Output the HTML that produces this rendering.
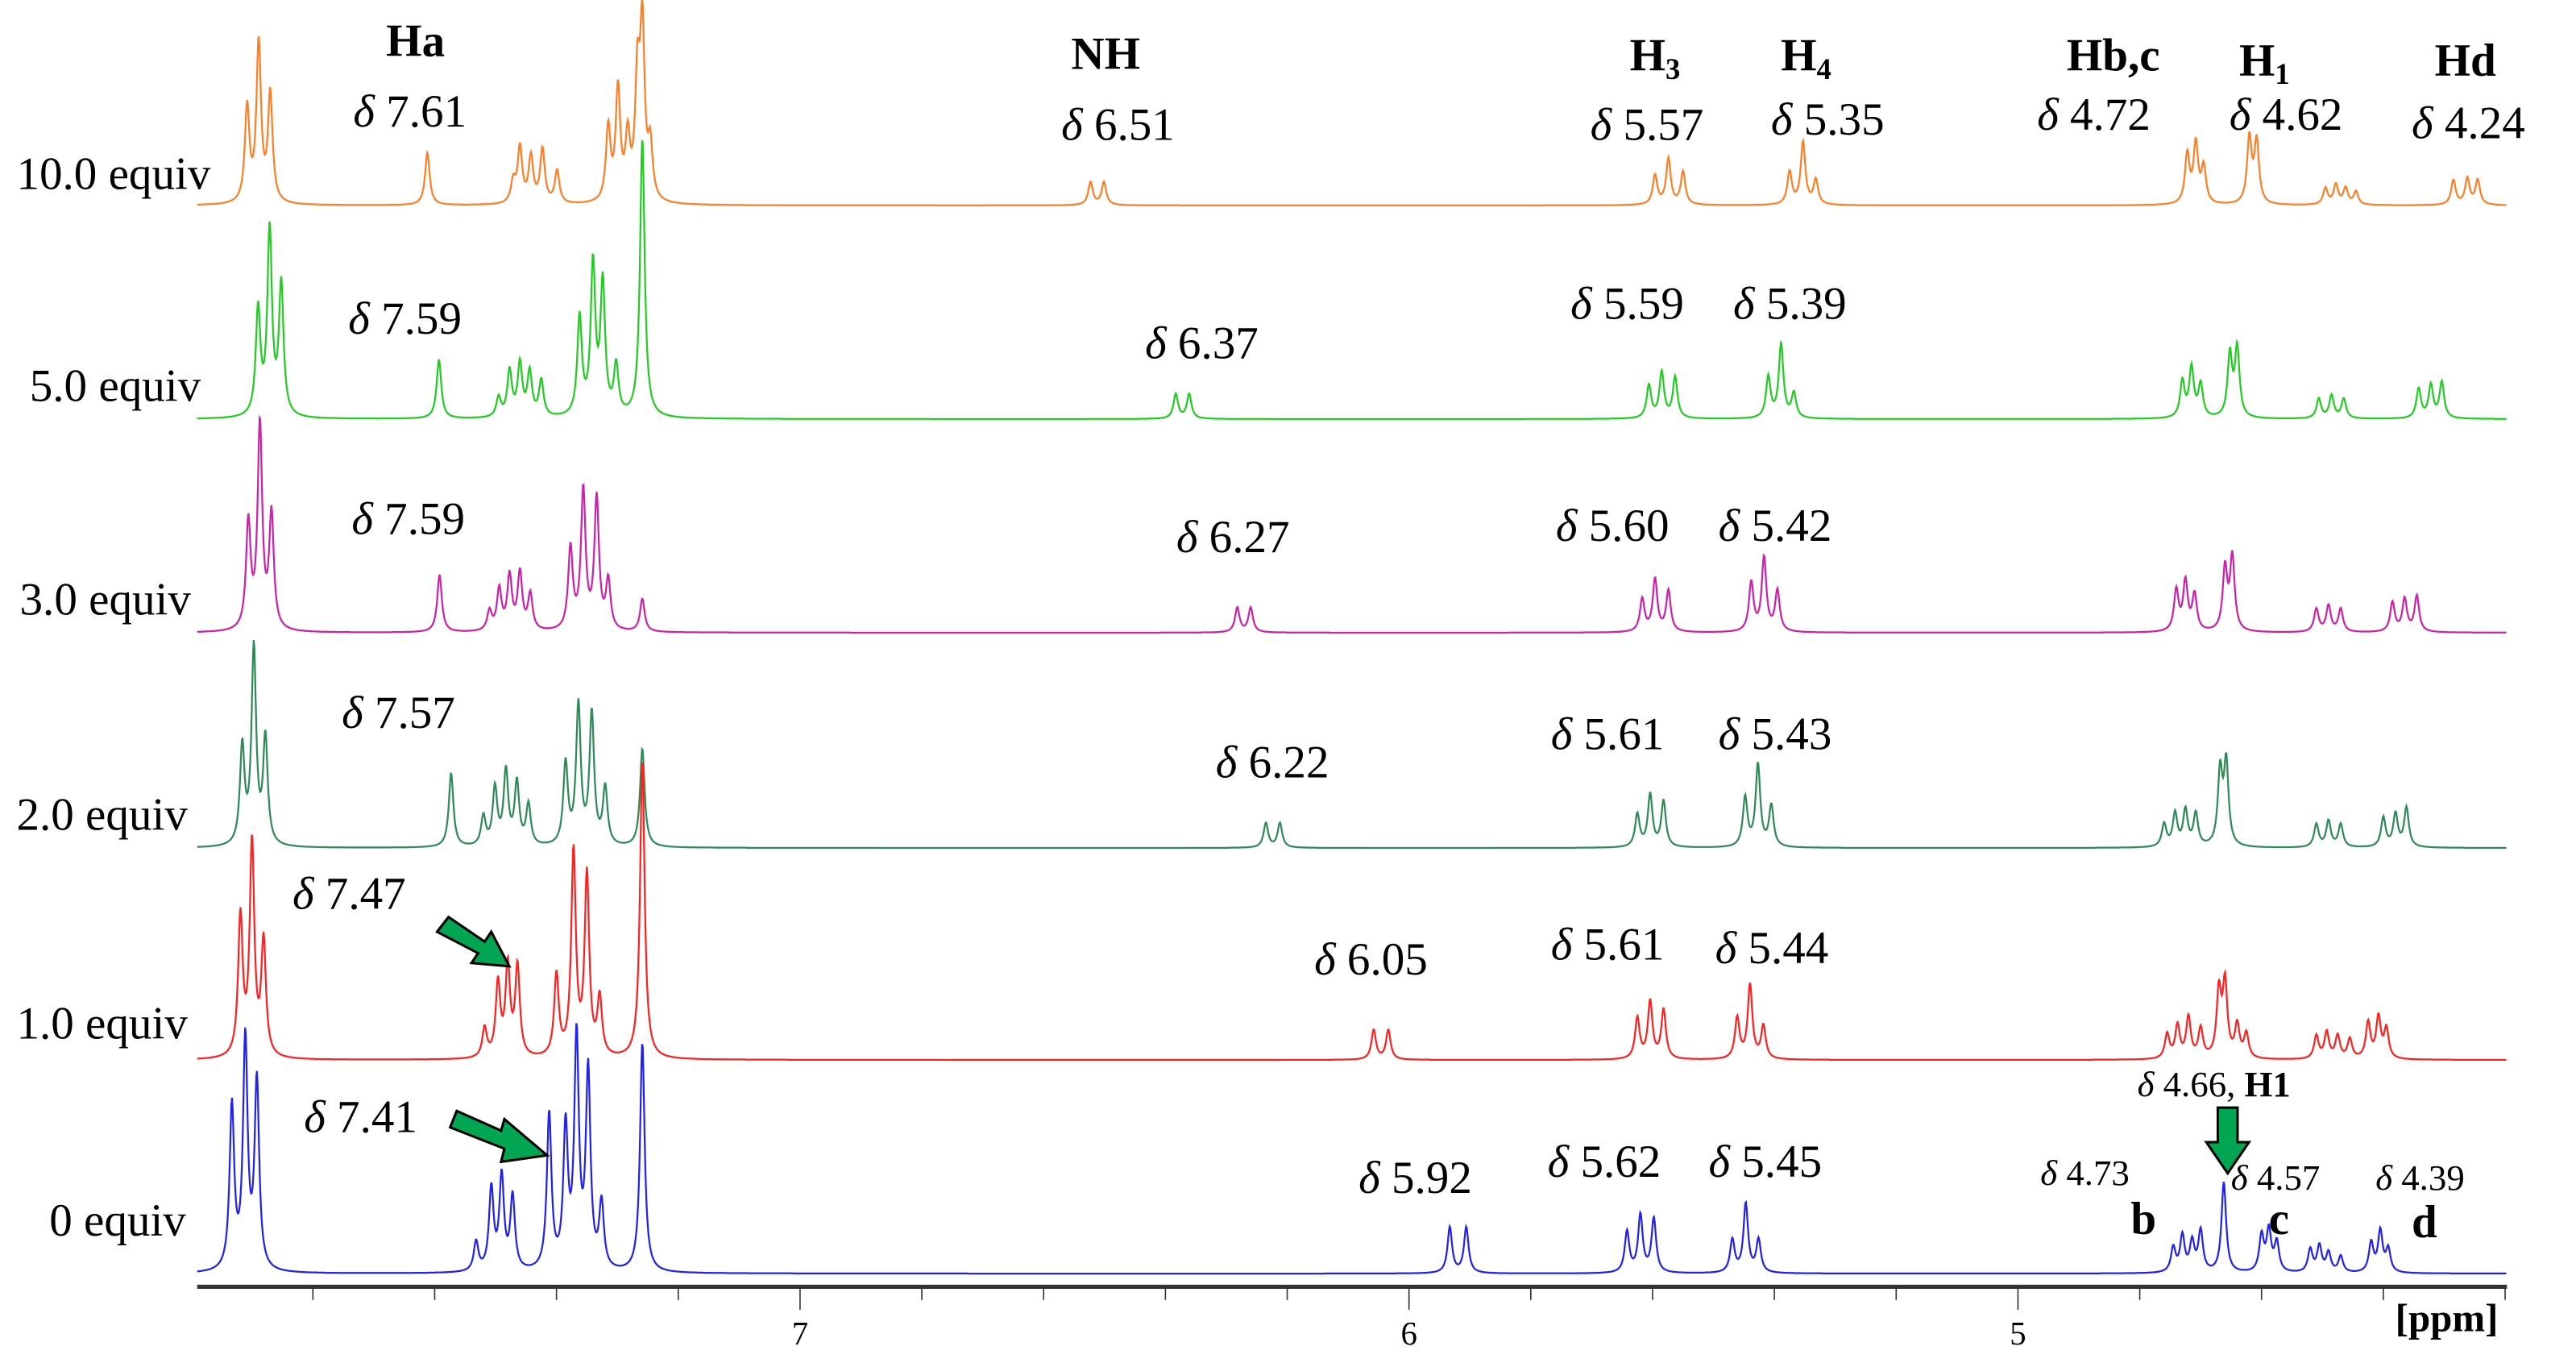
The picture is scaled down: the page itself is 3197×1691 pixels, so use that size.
<!DOCTYPE html>
<html><head><meta charset="utf-8"><style>
html,body{margin:0;padding:0;background:#fff;}
svg{display:block;}
text{font-family:"Liberation Serif",serif;}
</style></head><body>
<svg id="chart" width="3197" height="1691" viewBox="0 0 1568 829.4" xmlns="http://www.w3.org/2000/svg">
<g id="traces"></g>
<g id="axis"></g>
<g font-size="28" fill="#000">
<text x="10" y="115">10.0 equiv</text>
<text x="18" y="244">5.0 equiv</text>
<text x="12" y="374">3.0 equiv</text>
<text x="10" y="505">2.0 equiv</text>
<text x="10" y="632">1.0 equiv</text>
<text x="30" y="752">0 equiv</text>
<g font-weight="bold">
<text x="235" y="34">Ha</text>
<text x="652" y="42">NH</text>
<text x="992" y="43">H<tspan font-size="18" dy="5">3</tspan></text>
<text x="1084" y="43">H<tspan font-size="18" dy="5">4</tspan></text>
<text x="1258" y="43">Hb,c</text>
<text x="1363" y="46">H<tspan font-size="18" dy="5">1</tspan></text>
<text x="1482" y="46">Hd</text>
<text x="1297" y="751">b</text>
<text x="1381" y="751">c</text>
<text x="1468" y="753">d</text>
</g>
<g id="deltas">
<text x="215" y="77"><tspan font-style="italic">δ</tspan> 7.61</text>
<text x="646" y="85"><tspan font-style="italic">δ</tspan> 6.51</text>
<text x="968" y="85"><tspan font-style="italic">δ</tspan> 5.57</text>
<text x="1078" y="82"><tspan font-style="italic">δ</tspan> 5.35</text>
<text x="1240" y="79"><tspan font-style="italic">δ</tspan> 4.72</text>
<text x="1357" y="79"><tspan font-style="italic">δ</tspan> 4.62</text>
<text x="1468" y="84"><tspan font-style="italic">δ</tspan> 4.24</text>
<text x="212" y="203"><tspan font-style="italic">δ</tspan> 7.59</text>
<text x="697" y="218"><tspan font-style="italic">δ</tspan> 6.37</text>
<text x="956" y="194"><tspan font-style="italic">δ</tspan> 5.59</text>
<text x="1055" y="194"><tspan font-style="italic">δ</tspan> 5.39</text>
<text x="214" y="325"><tspan font-style="italic">δ</tspan> 7.59</text>
<text x="716" y="336"><tspan font-style="italic">δ</tspan> 6.27</text>
<text x="947" y="329"><tspan font-style="italic">δ</tspan> 5.60</text>
<text x="1046" y="329"><tspan font-style="italic">δ</tspan> 5.42</text>
<text x="208" y="443"><tspan font-style="italic">δ</tspan> 7.57</text>
<text x="740" y="473"><tspan font-style="italic">δ</tspan> 6.22</text>
<text x="944" y="456"><tspan font-style="italic">δ</tspan> 5.61</text>
<text x="1046" y="456"><tspan font-style="italic">δ</tspan> 5.43</text>
<text x="178" y="553"><tspan font-style="italic">δ</tspan> 7.47</text>
<text x="800" y="593"><tspan font-style="italic">δ</tspan> 6.05</text>
<text x="944" y="584"><tspan font-style="italic">δ</tspan> 5.61</text>
<text x="1044" y="586"><tspan font-style="italic">δ</tspan> 5.44</text>
<text x="185" y="689"><tspan font-style="italic">δ</tspan> 7.41</text>
<text x="827" y="726"><tspan font-style="italic">δ</tspan> 5.92</text>
<text x="942" y="716"><tspan font-style="italic">δ</tspan> 5.62</text>
<text x="1040" y="716"><tspan font-style="italic">δ</tspan> 5.45</text>
<text x="1242" y="721" font-size="22"><tspan font-style="italic">δ</tspan> 4.73</text>
<text x="1301" y="667" font-size="22"><tspan font-style="italic">δ</tspan> 4.66, <tspan font-weight="bold">H1</tspan></text>
<text x="1358" y="724" font-size="22"><tspan font-style="italic">δ</tspan> 4.57</text>
<text x="1446" y="724" font-size="22"><tspan font-style="italic">δ</tspan> 4.39</text>
</g>
</g>
<g fill="#00a651" stroke="#000" stroke-width="1.5">
<polygon points="266,567 273,558 295,573 299,567 310,588 287,586 291,580"/>
<polygon points="274,686 278,676 305,688 307,681 333,703 305,707 307,699"/>
<polygon points="1350,674 1362,674 1362,695 1369,695 1356,714 1343,695 1350,695"/>
</g>
<script>
const ppmMin = 4.197, ppmMax = 7.99;
const baselines = [125, 255, 385, 516, 645, 775];
const colors = ["#ff7f27", "#22cc22", "#cc22aa", "#2e8b57", "#ff2020", "#2222ee"];
const traceNames = ["10-equiv", "5-equiv", "3-equiv", "2-equiv", "1-equiv", "0-equiv"];
// peaks: [ppm, height(px)]
const peaks10 = [[7.908,58],[7.889,97],[7.870,66],[7.612,32],[7.471,13],[7.460,34],[7.442,28],[7.423,33],[7.399,20],[7.315,45],[7.299,68],[7.283,37],[7.267,70],[7.259,103],[7.246,32],[6.523,14],[6.501,14],[5.596,18],[5.574,28],[5.550,20],[5.375,20],[5.353,38],[5.332,15],[4.722,30],[4.708,36],[4.695,22],[4.620,40],[4.608,38],[4.495,10],[4.478,12],[4.462,10],[4.445,8],[4.285,15],[4.262,16],[4.245,15]];
const peaks5 = [[7.890,65],[7.871,113],[7.852,80],[7.593,36],[7.495,12],[7.477,28],[7.460,32],[7.444,27],[7.425,22],[7.362,60],[7.340,92],[7.324,80],[7.302,30],[7.259,170],[6.383,15],[6.361,15],[5.606,20],[5.585,28],[5.563,25],[5.410,25],[5.389,45],[5.368,15],[4.730,22],[4.715,30],[4.700,20],[4.652,38],[4.640,42],[4.506,12],[4.485,14],[4.465,12],[4.342,18],[4.322,20],[4.304,22]];
const peaks3 = [[7.906,65],[7.887,125],[7.868,70],[7.592,35],[7.510,12],[7.494,25],[7.477,33],[7.460,35],[7.443,22],[7.377,50],[7.356,85],[7.334,80],[7.315,30],[7.259,20],[6.282,15],[6.260,15],[5.617,20],[5.596,32],[5.574,25],[5.438,30],[5.417,45],[5.395,25],[4.740,25],[4.725,30],[4.710,22],[4.660,38],[4.648,45],[4.510,14],[4.490,16],[4.470,14],[4.385,18],[4.365,20],[4.345,22]];
const peaks2 = [[7.916,60],[7.897,120],[7.878,65],[7.573,45],[7.520,18],[7.501,35],[7.483,45],[7.465,38],[7.446,25],[7.385,50],[7.364,85],[7.342,80],[7.320,35],[7.259,60],[6.235,15],[6.212,15],[5.625,20],[5.604,32],[5.582,28],[5.448,30],[5.427,50],[5.405,25],[4.760,14],[4.742,20],[4.725,22],[4.708,20],[4.668,45],[4.658,50],[4.510,14],[4.490,16],[4.470,14],[4.400,18],[4.380,20],[4.362,24]];
const peaks1 = [[7.919,85],[7.900,130],[7.881,70],[7.518,18],[7.496,45],[7.480,55],[7.464,55],[7.400,50],[7.372,125],[7.350,110],[7.329,35],[7.259,182],[6.058,18],[6.034,18],[5.625,25],[5.604,35],[5.582,30],[5.461,25],[5.440,45],[5.418,20],[4.755,15],[4.738,20],[4.720,25],[4.700,18],[4.670,40],[4.660,45],[4.640,20],[4.625,15],[4.510,14],[4.493,16],[4.475,14],[4.455,12],[4.425,22],[4.408,25],[4.395,18]];
const peaks0 = [[7.933,100],[7.911,140],[7.892,115],[7.532,18],[7.507,50],[7.490,57],[7.472,45],[7.412,95],[7.385,85],[7.367,140],[7.348,120],[7.326,40],[7.259,140],[5.933,28],[5.906,28],[5.642,25],[5.620,35],[5.598,33],[5.469,20],[5.447,42],[5.426,20],[4.745,15],[4.730,22],[4.714,18],[4.700,25],[4.662,55],[4.600,22],[4.588,25],[4.575,18],[4.520,14],[4.505,16],[4.490,12],[4.470,10],[4.420,18],[4.405,25],[4.392,14]];
const allPeaks = [peaks10, peaks5, peaks3, peaks2, peaks1, peaks0];
const xTicks = [7, 6, 5];

const X0 = 120, X1 = 1526;
function xScale(p){ return X0 + (ppmMax - p) / (ppmMax - ppmMin) * (X1 - X0); }
const NS = "http://www.w3.org/2000/svg";
const tg = document.getElementById("traces");
const w = 0.0045;
allPeaks.forEach((pk, i) => {
  let d = "";
  for (let x = X0; x <= X1; x += 0.4) {
    const p = ppmMax - (x - X0) / (X1 - X0) * (ppmMax - ppmMin);
    let y = 0;
    for (const [c, h] of pk) { const u = (p - c) / w; y += h / (1 + u * u); }
    d += (d ? "L" : "M") + x.toFixed(1) + " " + (baselines[i] - y).toFixed(1);
  }
  const path = document.createElementNS(NS, "path");
  path.setAttribute("d", d);
  path.setAttribute("fill", "none");
  path.setAttribute("stroke", colors[i]);
  path.setAttribute("stroke-width", "1.1");
  
  
  tg.appendChild(path);
});
const ag = document.getElementById("axis");
function mk(tag, attrs){ const e = document.createElementNS(NS, tag); for (const k in attrs) e.setAttribute(k, attrs[k]); ag.appendChild(e); return e; }
const line = mk("line", {x1: X0, x2: X1, y1: 783, y2: 783, stroke: "#333", "stroke-width": 2.5});


for (let t = 7.8; t >= 4.19; t -= 0.2) {
  const tv = Math.round(t * 10) / 10;
  const major = Math.abs(tv - Math.round(tv)) < 0.01;
  const tk = mk("line", {x1: xScale(tv), x2: xScale(tv), y1: 783, y2: major ? 797 : 791, stroke: "#333", "stroke-width": 0.8});
  
  
}
xTicks.forEach(v => {
  const t = mk("text", {x: xScale(v), y: 818, "text-anchor": "middle", "font-size": 20});
  t.textContent = v;
  
  
});
const u = mk("text", {x: 1458, y: 810, "font-size": 24, "font-weight": "bold"});
u.textContent = "[ppm]";


</script>
</svg>
</body></html>
